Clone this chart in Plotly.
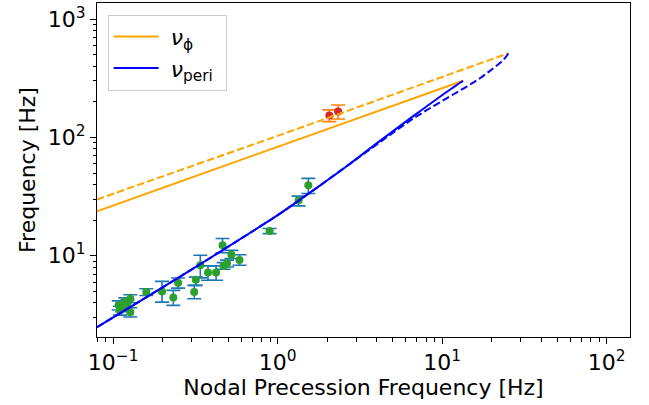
import plotly.graph_objects as go

# ---- data ----
# observed QPOs (green markers, blue error bars)
obs_nod = [0.462, 0.523, 0.586, 0.492, 0.469, 0.3385, 0.377, 0.422, 0.318, 0.311,
           0.248, 0.232, 0.198, 0.159, 0.108, 0.1185, 0.127, 0.110, 0.127, 0.1135,
           0.122, 0.893, 1.34, 1.535]
obs_freq = [12.3, 10.2, 9.21, 8.59, 8.20, 8.31, 7.21, 7.21, 6.28, 4.93,
            5.93, 4.43, 5.00, 4.93, 3.81, 4.06, 4.34, 3.45, 3.34, 3.66,
            3.95, 16.2, 29.5, 39.5]
obs_err_up = [1.7, 0.9, 1.0, 0.6, 0.55, 1.8, 1.0, 1.0, 0.32, 0.69,
              0.56, 0.67, 1.08, 0.34, 0.35, 0.35, 0.35, 0.3, 0.3, 0.3,
              0.3, 0.8, 2.4, 5.6]
obs_err_dn = [1.7, 0.73, 0.9, 0.55, 0.51, 1.8, 1.0, 1.0, 0.66, 0.6,
              0.6, 0.62, 0.94, 0.31, 0.33, 0.33, 0.33, 0.3, 0.3, 0.3,
              0.3, 0.8, 3.1, 5.9]

# high-frequency QPOs (red markers, orange error bars)
hf_nod = [2.06, 2.33]
hf_freq = [153, 166]
hf_err_up = [18, 22]
hf_err_dn = [17, 23]

# model curves
phi_solid_nod = [0.0797, 1.037, 13.38]
phi_solid_freq = [23.8, 84.9, 301]
phi_dash_nod = [0.0797, 1.037, 25.3]
phi_dash_freq = [29.9, 105, 515]

peri_solid_nod = [0.0797, 0.294, 0.783, 1.037, 1.652, 2.638, 4.205, 6.70, 9.74,
                  11.73, 12.88, 13.38]
peri_solid_freq = [2.49, 7.53, 17.7, 22.8, 35.9, 57.4, 94.0, 152, 222,
                   266, 291, 301]
peri_dash_nod = [0.0797, 0.294, 0.783, 1.037, 1.652, 2.638, 4.205, 6.70, 10.70,
                 14.15, 17.04, 20.53, 23.6, 25.3]
peri_dash_freq = [2.49, 7.53, 17.7, 22.8, 35.9, 57.4, 91.6, 145, 215,
                  270, 318, 386, 454, 515]

x_tickvals = [0.1, 1, 10, 100]
x_ticktext = ["10<sup>−1</sup>", "10<sup>0</sup>", "10<sup>1</sup>", "10<sup>2</sup>"]
y_tickvals = [10, 100, 1000]
y_ticktext = ["10<sup>1</sup>", "10<sup>2</sup>", "10<sup>3</sup>"]

ORANGE = "#FFA500"
BLUE = "#0000FF"
FONT = "DejaVu Sans"
FS = 22
DASH = "7.4px,3.2px"

fig = go.Figure()

fig.add_trace(go.Scatter(
    x=obs_nod, y=obs_freq, mode="markers",
    marker=dict(color="#2ca02c", size=8),
    error_y=dict(type="data", symmetric=False, array=obs_err_up, arrayminus=obs_err_dn,
                 color="#1f77b4", thickness=1.6, width=7),
    showlegend=False))
fig.add_trace(go.Scatter(
    x=hf_nod, y=hf_freq, mode="markers",
    marker=dict(color="#d62728", size=8),
    error_y=dict(type="data", symmetric=False, array=hf_err_up, arrayminus=hf_err_dn,
                 color="#ff7f0e", thickness=1.6, width=7),
    showlegend=False))

fig.add_trace(go.Scatter(x=phi_solid_nod, y=phi_solid_freq, mode="lines",
                         line=dict(color=ORANGE, width=2),
                         name="\u00a0<i>ν</i><sub>ϕ</sub>"))
fig.add_trace(go.Scatter(x=peri_solid_nod, y=peri_solid_freq, mode="lines",
                         line=dict(color=BLUE, width=2, shape="spline"),
                         name="\u00a0<i>ν</i><sub>peri</sub>\u00a0"))
fig.add_trace(go.Scatter(x=phi_dash_nod, y=phi_dash_freq, mode="lines",
                         line=dict(color=ORANGE, width=2, dash=DASH), showlegend=False))
fig.add_trace(go.Scatter(x=peri_dash_nod, y=peri_dash_freq, mode="lines",
                         line=dict(color=BLUE, width=2, dash=DASH, shape="spline"),
                         showlegend=False))

axis_common = dict(
    type="log", showgrid=False, zeroline=False, automargin=False,
    showline=True, linecolor="black", linewidth=1, mirror=True,
    ticks="outside", ticklen=6, tickwidth=1, tickcolor="black",
    tickfont=dict(family=FONT, size=FS, color="black"),
    minor=dict(ticks="outside", ticklen=3.5, tickwidth=0.8, tickcolor="black",
               dtick="D1", showgrid=False),
)

fig.update_layout(
    width=649, height=405,
    margin=dict(l=97, r=19, t=3, b=68),
    plot_bgcolor="white", paper_bgcolor="white",
    font=dict(family=FONT, size=FS, color="black"),
    xaxis=dict(axis_common, range=[-1.0985, 2.1416], tickvals=x_tickvals, ticktext=x_ticktext,
               title=dict(text="Nodal Precession Frequency [Hz]", font=dict(size=FS), standoff=4)),
    yaxis=dict(axis_common, range=[0.3136, 3.136], tickvals=y_tickvals, ticktext=y_ticktext,
               title=dict(text="Frequency [Hz]", font=dict(size=FS), standoff=6)),
    legend=dict(x=0.02, y=0.965, xanchor="left", yanchor="top",
                bgcolor="rgba(255,255,255,0.8)", bordercolor="#cccccc", borderwidth=1,
                font=dict(family=FONT, size=FS), itemwidth=45),
)

fig.write_html("out.html", config={"displayModeBar": False},
               post_script="document.body.style.margin='0';document.body.style.padding='0';")
